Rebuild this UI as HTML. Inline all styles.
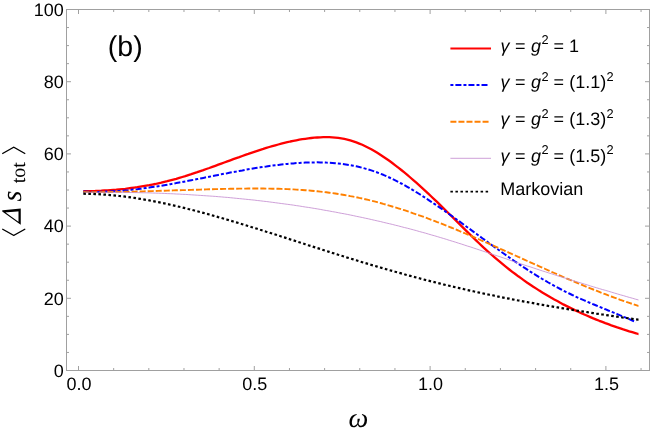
<!DOCTYPE html>
<html><head><meta charset="utf-8"><title>plot</title>
<style>html,body{margin:0;padding:0;background:#fff}svg{display:block}text{font-family:"Liberation Sans",sans-serif;fill:#000;text-rendering:geometricPrecision}.si{font-family:"Liberation Serif",serif;font-style:italic}.sr{font-family:"Liberation Serif",serif}</style>
</head><body>
<svg width="650" height="435" viewBox="0 0 650 435">
<rect width="650" height="435" fill="#fff"/>
<path d="M83.3 191.2 L86.3 191.2 L89.3 191.1 L92.3 191.1 L95.3 191.0 L98.3 190.8 L101.3 190.7 L104.3 190.5 L107.3 190.4 L110.3 190.1 L113.3 189.9 L116.3 189.7 L119.3 189.4 L122.3 189.1 L125.3 188.8 L128.3 188.4 L131.3 188.0 L134.3 187.6 L137.3 187.2 L140.3 186.7 L143.3 186.2 L146.3 185.7 L149.3 185.2 L152.3 184.6 L155.3 184.0 L158.3 183.3 L161.3 182.7 L164.3 181.9 L167.3 181.2 L170.3 180.4 L173.3 179.6 L176.3 178.8 L179.3 177.9 L182.3 177.0 L185.3 176.1 L188.3 175.1 L191.3 174.2 L194.3 173.2 L197.3 172.2 L200.3 171.1 L203.3 170.1 L206.3 169.0 L209.3 168.0 L212.3 166.9 L215.3 165.8 L218.3 164.7 L221.3 163.6 L224.3 162.5 L227.3 161.4 L230.3 160.3 L233.3 159.2 L236.3 158.1 L239.3 157.1 L242.3 156.0 L245.3 154.9 L248.3 153.9 L251.3 152.8 L254.3 151.8 L257.3 150.8 L260.3 149.8 L263.3 148.9 L266.3 147.9 L269.3 147.0 L272.3 146.1 L275.3 145.3 L278.3 144.5 L281.3 143.7 L284.3 142.9 L287.3 142.2 L290.3 141.5 L293.3 140.9 L296.3 140.3 L299.3 139.7 L302.3 139.2 L305.3 138.8 L308.3 138.4 L311.3 138.0 L314.3 137.7 L317.3 137.5 L320.3 137.3 L323.3 137.2 L326.3 137.2 L329.3 137.2 L332.3 137.4 L335.3 137.6 L338.3 137.9 L341.3 138.4 L344.3 138.9 L347.3 139.6 L350.3 140.4 L353.3 141.3 L356.3 142.4 L359.3 143.6 L362.3 144.8 L365.3 146.2 L368.3 147.7 L371.3 149.3 L374.3 151.0 L377.3 152.8 L380.3 154.7 L383.3 156.7 L386.3 158.7 L389.3 160.8 L392.3 163.0 L395.3 165.3 L398.3 167.6 L401.3 170.0 L404.3 172.4 L407.3 174.9 L410.3 177.5 L413.3 180.1 L416.3 182.7 L419.3 185.4 L422.3 188.1 L425.3 190.9 L428.3 193.7 L431.3 196.5 L434.3 199.3 L437.3 202.2 L440.3 205.1 L443.3 208.1 L446.3 211.0 L449.3 214.0 L452.3 216.9 L455.3 219.9 L458.3 222.9 L461.3 225.9 L464.3 228.9 L467.3 231.8 L470.3 234.8 L473.3 237.7 L476.3 240.6 L479.3 243.5 L482.3 246.3 L485.3 249.1 L488.3 251.8 L491.3 254.5 L494.3 257.1 L497.3 259.7 L500.3 262.2 L503.3 264.7 L506.3 267.1 L509.3 269.5 L512.3 271.8 L515.3 274.0 L518.3 276.3 L521.3 278.4 L524.3 280.6 L527.3 282.7 L530.3 284.7 L533.3 286.7 L536.3 288.6 L539.3 290.6 L542.3 292.4 L545.3 294.2 L548.3 296.0 L551.3 297.8 L554.3 299.5 L557.3 301.1 L560.3 302.8 L563.3 304.4 L566.3 305.9 L569.3 307.4 L572.3 308.9 L575.3 310.4 L578.3 311.8 L581.3 313.2 L584.3 314.5 L587.3 315.8 L590.3 317.1 L593.3 318.4 L596.3 319.6 L599.3 320.8 L602.3 321.9 L605.3 323.1 L608.3 324.2 L611.3 325.3 L614.3 326.3 L617.3 327.4 L620.3 328.4 L623.3 329.4 L626.3 330.3 L629.3 331.3 L632.3 332.2 L635.3 333.1 L638.3 334.0 L638.5 334.0" fill="none" stroke="#ff0000" stroke-width="2.3" stroke-linejoin="round"/>
<path d="M83.3 191.6 L86.3 191.7 L89.3 191.8 L92.3 191.9 L95.3 191.9 L98.3 191.9 L101.3 191.8 L104.3 191.7 L107.3 191.6 L110.3 191.5 L113.3 191.3 L116.3 191.2 L119.3 190.9 L122.3 190.7 L125.3 190.4 L128.3 190.2 L131.3 189.8 L134.3 189.5 L137.3 189.2 L140.3 188.8 L143.3 188.4 L146.3 188.0 L149.3 187.6 L152.3 187.1 L155.3 186.7 L158.3 186.2 L161.3 185.7 L164.3 185.2 L167.3 184.7 L170.3 184.2 L173.3 183.6 L176.3 183.1 L179.3 182.5 L182.3 182.0 L185.3 181.4 L188.3 180.8 L191.3 180.2 L194.3 179.7 L197.3 179.1 L200.3 178.5 L203.3 177.9 L206.3 177.3 L209.3 176.7 L212.3 176.1 L215.3 175.5 L218.3 174.9 L221.3 174.3 L224.3 173.7 L227.3 173.2 L230.3 172.6 L233.3 172.0 L236.3 171.5 L239.3 170.9 L242.3 170.4 L245.3 169.8 L248.3 169.3 L251.3 168.8 L254.3 168.3 L257.3 167.8 L260.3 167.3 L263.3 166.9 L266.3 166.5 L269.3 166.0 L272.3 165.6 L275.3 165.2 L278.3 164.9 L281.3 164.5 L284.3 164.2 L287.3 163.9 L290.3 163.6 L293.3 163.4 L296.3 163.1 L299.3 162.9 L302.3 162.7 L305.3 162.6 L308.3 162.5 L311.3 162.4 L314.3 162.4 L317.3 162.3 L320.3 162.4 L323.3 162.4 L326.3 162.6 L329.3 162.7 L332.3 162.9 L335.3 163.2 L338.3 163.5 L341.3 163.8 L344.3 164.2 L347.3 164.7 L350.3 165.2 L353.3 165.7 L356.3 166.3 L359.3 167.0 L362.3 167.8 L365.3 168.6 L368.3 169.4 L371.3 170.4 L374.3 171.4 L377.3 172.5 L380.3 173.6 L383.3 174.8 L386.3 176.1 L389.3 177.5 L392.3 178.9 L395.3 180.4 L398.3 181.9 L401.3 183.5 L404.3 185.1 L407.3 186.8 L410.3 188.6 L413.3 190.3 L416.3 192.2 L419.3 194.0 L422.3 195.9 L425.3 197.8 L428.3 199.8 L431.3 201.8 L434.3 203.8 L437.3 205.8 L440.3 207.9 L443.3 210.0 L446.3 212.1 L449.3 214.2 L452.3 216.3 L455.3 218.5 L458.3 220.6 L461.3 222.8 L464.3 225.0 L467.3 227.2 L470.3 229.4 L473.3 231.6 L476.3 233.8 L479.3 236.0 L482.3 238.2 L485.3 240.3 L488.3 242.5 L491.3 244.7 L494.3 246.9 L497.3 249.0 L500.3 251.2 L503.3 253.3 L506.3 255.4 L509.3 257.5 L512.3 259.6 L515.3 261.7 L518.3 263.7 L521.3 265.7 L524.3 267.7 L527.3 269.6 L530.3 271.6 L533.3 273.5 L536.3 275.3 L539.3 277.2 L542.3 279.0 L545.3 280.7 L548.3 282.5 L551.3 284.2 L554.3 285.8 L557.3 287.4 L560.3 289.0 L563.3 290.6 L566.3 292.1 L569.3 293.5 L572.3 295.0 L575.3 296.4 L578.3 297.8 L581.3 299.1 L584.3 300.4 L587.3 301.7 L590.3 303.0 L593.3 304.3 L596.3 305.5 L599.3 306.8 L602.3 308.0 L605.3 309.2 L608.3 310.5 L611.3 311.7 L614.3 312.9 L617.3 314.1 L620.3 315.4 L623.3 316.6 L626.3 317.9 L629.3 319.2 L632.3 320.5 L635.3 321.8 L636.0 322.1" fill="none" stroke="#0000ff" stroke-width="2.0" stroke-dasharray="6 2.05 3 2.05" stroke-linejoin="round"/>
<path d="M83.3 192.0 L86.3 192.1 L89.3 192.1 L92.3 192.1 L95.3 192.1 L98.3 192.1 L101.3 192.1 L104.3 192.1 L107.3 192.1 L110.3 192.0 L113.3 192.0 L116.3 191.9 L119.3 191.9 L122.3 191.9 L125.3 191.8 L128.3 191.7 L131.3 191.7 L134.3 191.6 L137.3 191.5 L140.3 191.5 L143.3 191.4 L146.3 191.3 L149.3 191.2 L152.3 191.1 L155.3 191.0 L158.3 190.9 L161.3 190.8 L164.3 190.7 L167.3 190.6 L170.3 190.5 L173.3 190.4 L176.3 190.3 L179.3 190.2 L182.3 190.1 L185.3 190.1 L188.3 190.0 L191.3 189.9 L194.3 189.8 L197.3 189.7 L200.3 189.6 L203.3 189.5 L206.3 189.4 L209.3 189.3 L212.3 189.2 L215.3 189.1 L218.3 189.1 L221.3 189.0 L224.3 188.9 L227.3 188.9 L230.3 188.8 L233.3 188.7 L236.3 188.7 L239.3 188.6 L242.3 188.6 L245.3 188.6 L248.3 188.5 L251.3 188.5 L254.3 188.5 L257.3 188.5 L260.3 188.5 L263.3 188.5 L266.3 188.6 L269.3 188.6 L272.3 188.7 L275.3 188.7 L278.3 188.8 L281.3 188.9 L284.3 189.0 L287.3 189.1 L290.3 189.3 L293.3 189.4 L296.3 189.6 L299.3 189.8 L302.3 190.0 L305.3 190.2 L308.3 190.4 L311.3 190.7 L314.3 191.0 L317.3 191.3 L320.3 191.6 L323.3 191.9 L326.3 192.3 L329.3 192.7 L332.3 193.1 L335.3 193.5 L338.3 194.0 L341.3 194.5 L344.3 195.0 L347.3 195.5 L350.3 196.1 L353.3 196.6 L356.3 197.2 L359.3 197.9 L362.3 198.5 L365.3 199.2 L368.3 199.9 L371.3 200.7 L374.3 201.4 L377.3 202.2 L380.3 203.0 L383.3 203.9 L386.3 204.7 L389.3 205.6 L392.3 206.5 L395.3 207.4 L398.3 208.3 L401.3 209.3 L404.3 210.2 L407.3 211.2 L410.3 212.2 L413.3 213.3 L416.3 214.3 L419.3 215.4 L422.3 216.4 L425.3 217.5 L428.3 218.7 L431.3 219.8 L434.3 220.9 L437.3 222.1 L440.3 223.2 L443.3 224.4 L446.3 225.6 L449.3 226.8 L452.3 228.0 L455.3 229.3 L458.3 230.5 L461.3 231.8 L464.3 233.0 L467.3 234.3 L470.3 235.6 L473.3 236.9 L476.3 238.2 L479.3 239.5 L482.3 240.8 L485.3 242.1 L488.3 243.4 L491.3 244.8 L494.3 246.1 L497.3 247.4 L500.3 248.8 L503.3 250.1 L506.3 251.5 L509.3 252.8 L512.3 254.2 L515.3 255.5 L518.3 256.9 L521.3 258.2 L524.3 259.6 L527.3 261.0 L530.3 262.3 L533.3 263.7 L536.3 265.0 L539.3 266.3 L542.3 267.7 L545.3 269.0 L548.3 270.4 L551.3 271.7 L554.3 273.0 L557.3 274.3 L560.3 275.7 L563.3 277.0 L566.3 278.3 L569.3 279.5 L572.3 280.8 L575.3 282.1 L578.3 283.4 L581.3 284.6 L584.3 285.9 L587.3 287.1 L590.3 288.3 L593.3 289.5 L596.3 290.7 L599.3 291.9 L602.3 293.1 L605.3 294.2 L608.3 295.4 L611.3 296.5 L614.3 297.6 L617.3 298.7 L620.3 299.8 L623.3 300.8 L626.3 301.9 L629.3 302.9 L632.3 303.9 L635.3 304.9 L638.3 305.9 L638.5 305.9" fill="none" stroke="#ff8000" stroke-width="1.9" stroke-dasharray="6 2.05" stroke-linejoin="round"/>
<path d="M83.3 192.5 L86.3 192.4 L89.3 192.4 L92.3 192.4 L95.3 192.3 L98.3 192.3 L101.3 192.3 L104.3 192.3 L107.3 192.3 L110.3 192.3 L113.3 192.3 L116.3 192.3 L119.3 192.4 L122.3 192.4 L125.3 192.4 L128.3 192.5 L131.3 192.5 L134.3 192.6 L137.3 192.6 L140.3 192.7 L143.3 192.8 L146.3 192.8 L149.3 192.9 L152.3 193.0 L155.3 193.1 L158.3 193.2 L161.3 193.3 L164.3 193.4 L167.3 193.6 L170.3 193.7 L173.3 193.8 L176.3 194.0 L179.3 194.1 L182.3 194.3 L185.3 194.4 L188.3 194.6 L191.3 194.8 L194.3 195.0 L197.3 195.2 L200.3 195.4 L203.3 195.6 L206.3 195.8 L209.3 196.0 L212.3 196.2 L215.3 196.4 L218.3 196.7 L221.3 196.9 L224.3 197.2 L227.3 197.4 L230.3 197.7 L233.3 198.0 L236.3 198.3 L239.3 198.6 L242.3 198.9 L245.3 199.2 L248.3 199.5 L251.3 199.8 L254.3 200.1 L257.3 200.5 L260.3 200.8 L263.3 201.2 L266.3 201.5 L269.3 201.9 L272.3 202.3 L275.3 202.7 L278.3 203.1 L281.3 203.5 L284.3 203.9 L287.3 204.3 L290.3 204.7 L293.3 205.1 L296.3 205.6 L299.3 206.0 L302.3 206.5 L305.3 207.0 L308.3 207.4 L311.3 207.9 L314.3 208.4 L317.3 208.9 L320.3 209.4 L323.3 210.0 L326.3 210.5 L329.3 211.0 L332.3 211.6 L335.3 212.1 L338.3 212.7 L341.3 213.3 L344.3 213.8 L347.3 214.4 L350.3 215.0 L353.3 215.6 L356.3 216.3 L359.3 216.9 L362.3 217.5 L365.3 218.2 L368.3 218.8 L371.3 219.5 L374.3 220.2 L377.3 220.9 L380.3 221.5 L383.3 222.3 L386.3 223.0 L389.3 223.7 L392.3 224.4 L395.3 225.2 L398.3 225.9 L401.3 226.7 L404.3 227.5 L407.3 228.2 L410.3 229.0 L413.3 229.8 L416.3 230.6 L419.3 231.5 L422.3 232.3 L425.3 233.1 L428.3 234.0 L431.3 234.9 L434.3 235.7 L437.3 236.6 L440.3 237.5 L443.3 238.4 L446.3 239.3 L449.3 240.3 L452.3 241.2 L455.3 242.1 L458.3 243.1 L461.3 244.0 L464.3 245.0 L467.3 246.0 L470.3 246.9 L473.3 247.9 L476.3 248.9 L479.3 249.9 L482.3 250.9 L485.3 251.9 L488.3 252.9 L491.3 253.9 L494.3 254.9 L497.3 255.9 L500.3 256.9 L503.3 257.9 L506.3 258.9 L509.3 260.0 L512.3 261.0 L515.3 262.0 L518.3 263.0 L521.3 264.0 L524.3 265.0 L527.3 266.0 L530.3 266.9 L533.3 267.9 L536.3 268.9 L539.3 269.9 L542.3 270.9 L545.3 271.8 L548.3 272.8 L551.3 273.7 L554.3 274.7 L557.3 275.7 L560.3 276.6 L563.3 277.5 L566.3 278.5 L569.3 279.4 L572.3 280.3 L575.3 281.3 L578.3 282.2 L581.3 283.1 L584.3 284.0 L587.3 284.9 L590.3 285.9 L593.3 286.8 L596.3 287.7 L599.3 288.6 L602.3 289.5 L605.3 290.3 L608.3 291.2 L611.3 292.1 L614.3 293.0 L617.3 293.9 L620.3 294.8 L623.3 295.6 L626.3 296.5 L629.3 297.4 L632.3 298.2 L635.3 299.1 L638.3 299.9 L638.5 300.0" fill="none" stroke="#c58fd1" stroke-width="0.85" stroke-linejoin="round"/>
<path d="M83.3 193.7 L86.3 193.8 L89.3 193.8 L92.3 193.9 L95.3 194.1 L98.3 194.2 L101.3 194.4 L104.3 194.6 L107.3 194.8 L110.3 195.1 L113.3 195.3 L116.3 195.6 L119.3 196.0 L122.3 196.3 L125.3 196.7 L128.3 197.1 L131.3 197.5 L134.3 197.9 L137.3 198.4 L140.3 198.9 L143.3 199.4 L146.3 199.9 L149.3 200.4 L152.3 201.0 L155.3 201.6 L158.3 202.2 L161.3 202.8 L164.3 203.4 L167.3 204.0 L170.3 204.7 L173.3 205.4 L176.3 206.1 L179.3 206.8 L182.3 207.5 L185.3 208.2 L188.3 209.0 L191.3 209.7 L194.3 210.5 L197.3 211.3 L200.3 212.1 L203.3 212.9 L206.3 213.7 L209.3 214.5 L212.3 215.4 L215.3 216.2 L218.3 217.1 L221.3 217.9 L224.3 218.8 L227.3 219.7 L230.3 220.6 L233.3 221.5 L236.3 222.4 L239.3 223.3 L242.3 224.2 L245.3 225.1 L248.3 226.0 L251.3 227.0 L254.3 227.9 L257.3 228.8 L260.3 229.8 L263.3 230.7 L266.3 231.7 L269.3 232.6 L272.3 233.6 L275.3 234.5 L278.3 235.5 L281.3 236.5 L284.3 237.4 L287.3 238.4 L290.3 239.4 L293.3 240.3 L296.3 241.3 L299.3 242.3 L302.3 243.2 L305.3 244.2 L308.3 245.2 L311.3 246.1 L314.3 247.1 L317.3 248.1 L320.3 249.0 L323.3 250.0 L326.3 251.0 L329.3 251.9 L332.3 252.9 L335.3 253.8 L338.3 254.8 L341.3 255.7 L344.3 256.6 L347.3 257.6 L350.3 258.5 L353.3 259.4 L356.3 260.3 L359.3 261.3 L362.3 262.2 L365.3 263.1 L368.3 264.0 L371.3 264.9 L374.3 265.7 L377.3 266.6 L380.3 267.5 L383.3 268.4 L386.3 269.2 L389.3 270.1 L392.3 270.9 L395.3 271.8 L398.3 272.6 L401.3 273.4 L404.3 274.3 L407.3 275.1 L410.3 275.9 L413.3 276.7 L416.3 277.5 L419.3 278.3 L422.3 279.1 L425.3 279.9 L428.3 280.6 L431.3 281.4 L434.3 282.1 L437.3 282.9 L440.3 283.6 L443.3 284.4 L446.3 285.1 L449.3 285.8 L452.3 286.5 L455.3 287.2 L458.3 287.9 L461.3 288.6 L464.3 289.3 L467.3 290.0 L470.3 290.6 L473.3 291.3 L476.3 292.0 L479.3 292.6 L482.3 293.2 L485.3 293.9 L488.3 294.5 L491.3 295.1 L494.3 295.7 L497.3 296.4 L500.3 297.0 L503.3 297.6 L506.3 298.2 L509.3 298.7 L512.3 299.3 L515.3 299.9 L518.3 300.5 L521.3 301.0 L524.3 301.6 L527.3 302.1 L530.3 302.7 L533.3 303.2 L536.3 303.8 L539.3 304.3 L542.3 304.8 L545.3 305.3 L548.3 305.9 L551.3 306.4 L554.3 306.9 L557.3 307.4 L560.3 307.9 L563.3 308.4 L566.3 308.9 L569.3 309.4 L572.3 309.8 L575.3 310.3 L578.3 310.8 L581.3 311.3 L584.3 311.7 L587.3 312.2 L590.3 312.7 L593.3 313.1 L596.3 313.6 L599.3 314.0 L602.3 314.5 L605.3 314.9 L608.3 315.4 L611.3 315.8 L614.3 316.3 L617.3 316.7 L620.3 317.1 L623.3 317.6 L626.3 318.0 L629.3 318.4 L632.3 318.8 L635.3 319.3 L638.3 319.7 L638.5 319.7" fill="none" stroke="#000000" stroke-width="2.2" stroke-dasharray="2.6 2.43" stroke-linejoin="round"/>
<rect x="66.5" y="9.5" width="583.0" height="361.0" fill="none" stroke="#a0a0a0" stroke-width="1"/>
<path d="M78.50 370.5 v-4.5 M78.50 9.5 v4.5" stroke="#a0a0a0" stroke-width="1"/>
<path d="M113.66 370.5 v-2.5 M113.66 9.5 v2.5" stroke="#a0a0a0" stroke-width="1"/>
<path d="M148.82 370.5 v-2.5 M148.82 9.5 v2.5" stroke="#a0a0a0" stroke-width="1"/>
<path d="M183.98 370.5 v-2.5 M183.98 9.5 v2.5" stroke="#a0a0a0" stroke-width="1"/>
<path d="M219.14 370.5 v-2.5 M219.14 9.5 v2.5" stroke="#a0a0a0" stroke-width="1"/>
<path d="M254.30 370.5 v-4.5 M254.30 9.5 v4.5" stroke="#a0a0a0" stroke-width="1"/>
<path d="M289.46 370.5 v-2.5 M289.46 9.5 v2.5" stroke="#a0a0a0" stroke-width="1"/>
<path d="M324.62 370.5 v-2.5 M324.62 9.5 v2.5" stroke="#a0a0a0" stroke-width="1"/>
<path d="M359.78 370.5 v-2.5 M359.78 9.5 v2.5" stroke="#a0a0a0" stroke-width="1"/>
<path d="M394.94 370.5 v-2.5 M394.94 9.5 v2.5" stroke="#a0a0a0" stroke-width="1"/>
<path d="M430.10 370.5 v-4.5 M430.10 9.5 v4.5" stroke="#a0a0a0" stroke-width="1"/>
<path d="M465.26 370.5 v-2.5 M465.26 9.5 v2.5" stroke="#a0a0a0" stroke-width="1"/>
<path d="M500.42 370.5 v-2.5 M500.42 9.5 v2.5" stroke="#a0a0a0" stroke-width="1"/>
<path d="M535.58 370.5 v-2.5 M535.58 9.5 v2.5" stroke="#a0a0a0" stroke-width="1"/>
<path d="M570.74 370.5 v-2.5 M570.74 9.5 v2.5" stroke="#a0a0a0" stroke-width="1"/>
<path d="M605.90 370.5 v-4.5 M605.90 9.5 v4.5" stroke="#a0a0a0" stroke-width="1"/>
<path d="M641.06 370.5 v-2.5 M641.06 9.5 v2.5" stroke="#a0a0a0" stroke-width="1"/>
<path d="M66.5 370.50 h4.5 M649.5 370.50 h-4.5" stroke="#a0a0a0" stroke-width="1"/>
<path d="M66.5 352.45 h2.5 M649.5 352.45 h-2.5" stroke="#a0a0a0" stroke-width="1"/>
<path d="M66.5 334.40 h2.5 M649.5 334.40 h-2.5" stroke="#a0a0a0" stroke-width="1"/>
<path d="M66.5 316.35 h2.5 M649.5 316.35 h-2.5" stroke="#a0a0a0" stroke-width="1"/>
<path d="M66.5 298.30 h4.5 M649.5 298.30 h-4.5" stroke="#a0a0a0" stroke-width="1"/>
<path d="M66.5 280.25 h2.5 M649.5 280.25 h-2.5" stroke="#a0a0a0" stroke-width="1"/>
<path d="M66.5 262.20 h2.5 M649.5 262.20 h-2.5" stroke="#a0a0a0" stroke-width="1"/>
<path d="M66.5 244.15 h2.5 M649.5 244.15 h-2.5" stroke="#a0a0a0" stroke-width="1"/>
<path d="M66.5 226.10 h4.5 M649.5 226.10 h-4.5" stroke="#a0a0a0" stroke-width="1"/>
<path d="M66.5 208.05 h2.5 M649.5 208.05 h-2.5" stroke="#a0a0a0" stroke-width="1"/>
<path d="M66.5 190.00 h2.5 M649.5 190.00 h-2.5" stroke="#a0a0a0" stroke-width="1"/>
<path d="M66.5 171.95 h2.5 M649.5 171.95 h-2.5" stroke="#a0a0a0" stroke-width="1"/>
<path d="M66.5 153.90 h4.5 M649.5 153.90 h-4.5" stroke="#a0a0a0" stroke-width="1"/>
<path d="M66.5 135.85 h2.5 M649.5 135.85 h-2.5" stroke="#a0a0a0" stroke-width="1"/>
<path d="M66.5 117.80 h2.5 M649.5 117.80 h-2.5" stroke="#a0a0a0" stroke-width="1"/>
<path d="M66.5 99.75 h2.5 M649.5 99.75 h-2.5" stroke="#a0a0a0" stroke-width="1"/>
<path d="M66.5 81.70 h4.5 M649.5 81.70 h-4.5" stroke="#a0a0a0" stroke-width="1"/>
<path d="M66.5 63.65 h2.5 M649.5 63.65 h-2.5" stroke="#a0a0a0" stroke-width="1"/>
<path d="M66.5 45.60 h2.5 M649.5 45.60 h-2.5" stroke="#a0a0a0" stroke-width="1"/>
<path d="M66.5 27.55 h2.5 M649.5 27.55 h-2.5" stroke="#a0a0a0" stroke-width="1"/>
<path d="M66.5 9.50 h4.5 M649.5 9.50 h-4.5" stroke="#a0a0a0" stroke-width="1"/>
<g style="opacity:0.999">
<text x="63.8" y="376.75" text-anchor="end" font-size="18.0">0</text>
<text x="63.8" y="304.55" text-anchor="end" font-size="18.0">20</text>
<text x="63.8" y="232.35" text-anchor="end" font-size="18.0">40</text>
<text x="63.8" y="160.15" text-anchor="end" font-size="18.0">60</text>
<text x="63.8" y="87.95" text-anchor="end" font-size="18.0">80</text>
<text x="63.8" y="15.75" text-anchor="end" font-size="18.0">100</text>
<text x="79.0" y="390.0" text-anchor="middle" font-size="18.0">0.0</text>
<text x="254.8" y="390.0" text-anchor="middle" font-size="18.0">0.5</text>
<text x="430.6" y="390.0" text-anchor="middle" font-size="18.0">1.0</text>
<text x="606.4" y="390.0" text-anchor="middle" font-size="18.0">1.5</text>
<path d="M450.4 48.5 H491" stroke="#ff0000" stroke-width="2.1"/>
<path d="M450.4 85.0 H487.5" stroke="#0000ff" stroke-width="1.9" stroke-dasharray="3 2 6 2.05"/>
<path d="M450.4 121.8 H488.6" stroke="#ff8000" stroke-width="1.9" stroke-dasharray="6 2.04"/>
<path d="M450.4 158.3 H491" stroke="#c58fd1" stroke-width="0.85"/>
<path d="M450.4 191.6 H488.2" stroke="#000" stroke-width="1.9" stroke-dasharray="2.5 2.53"/>
<text x="500.6" y="51.8" font-size="18.0" font-style="italic">γ</text><text x="515.1" y="51.8" font-size="18.0">=</text><text x="531.0" y="51.8" font-size="18.0" font-style="italic">g</text><text x="541.6" y="44.4" font-size="12.8">2</text><text x="553.5" y="51.8" font-size="18.0">=</text><text x="569.0" y="51.8" font-size="18.0">1</text>
<text x="500.6" y="88.3" font-size="18.0" font-style="italic">γ</text><text x="515.1" y="88.3" font-size="18.0">=</text><text x="531.0" y="88.3" font-size="18.0" font-style="italic">g</text><text x="541.6" y="80.9" font-size="12.8">2</text><text x="553.5" y="88.3" font-size="18.0">=</text><text x="569.2" y="88.3" font-size="18.0">(1.1)</text><text x="606.6" y="80.9" font-size="12.8">2</text>
<text x="500.6" y="125.3" font-size="18.0" font-style="italic">γ</text><text x="515.1" y="125.3" font-size="18.0">=</text><text x="531.0" y="125.3" font-size="18.0" font-style="italic">g</text><text x="541.6" y="117.9" font-size="12.8">2</text><text x="553.5" y="125.3" font-size="18.0">=</text><text x="569.2" y="125.3" font-size="18.0">(1.3)</text><text x="606.6" y="117.9" font-size="12.8">2</text>
<text x="500.6" y="161.8" font-size="18.0" font-style="italic">γ</text><text x="515.1" y="161.8" font-size="18.0">=</text><text x="531.0" y="161.8" font-size="18.0" font-style="italic">g</text><text x="541.6" y="154.4" font-size="12.8">2</text><text x="553.5" y="161.8" font-size="18.0">=</text><text x="569.2" y="161.8" font-size="18.0">(1.5)</text><text x="606.6" y="154.4" font-size="12.8">2</text>
<text x="500.3" y="194.8" font-size="18.0">Markovian</text>
<text x="107.8" y="55.8" font-size="28.5">(b)</text>
<g transform="translate(0,240) rotate(-90)">
<path d="M11.0 2.3 L4.6 13.7 L11.0 25.3" fill="none" stroke="#000" stroke-width="1.3"/>
<path d="M86.3 2.3 L92.8 13.7 L86.3 25.3" fill="none" stroke="#000" stroke-width="1.3"/>
<path d="M15.2 20.7 L28.5 2.2 L29.7 2.2 L31.5 20.7 Z M18.2 18.4 L28.6 18.4 L27.6 5.6 Z" fill="#000" fill-rule="evenodd"/>
<text x="38.6" y="21.3" class="si" font-size="28">s</text>
<text x="56.8" y="25.4" class="sr" font-size="20">tot</text>
</g>
<text x="358.3" y="426.6" text-anchor="middle" class="si" font-size="28">ω</text>
</g>
</svg>
</body></html>
